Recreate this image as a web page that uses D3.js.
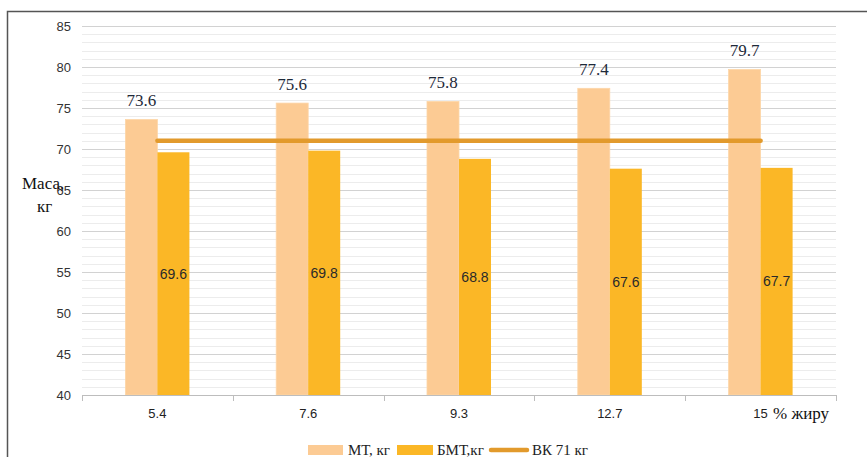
<!DOCTYPE html>
<html>
<head>
<meta charset="utf-8">
<script src="https://cdn.jsdelivr.net/npm/d3@7"></script>
<style>
  body { margin: 0; background: #fff; }
  svg { display: block; }
</style>
</head>
<body>
<svg id="chart" width="867" height="457"></svg>
<script>
// data
var categories = ["5.4", "7.6", "9.3", "12.7", "15"];
var mtValues = [73.6, 75.6, 75.8, 77.4, 79.7];
var bmtValues = [69.6, 69.8, 68.8, 67.6, 67.7];
var vkValues = [71, 71, 71, 71, 71];
var yTicks = [40, 45, 50, 55, 60, 65, 70, 75, 80, 85];

var svg = d3.select("#chart");
var plotLeft = 82, plotRight = 836, plotTop = 26, plotBottom = 395;
var serif = "'Liberation Serif', 'Times New Roman', serif";
var sans = "'Liberation Sans', Arial, sans-serif";

// frame
svg.append("path")
    .attr("d", "M7.5,457 L7.5,11.5 L867,11.5")
    .attr("fill", "none")
    .attr("stroke", "#555")
    .attr("stroke-width", 1.5);

var x = d3.scaleBand().domain(categories).range([plotLeft, plotRight]).padding(0);
var x1 = d3.scaleBand().domain(["mt", "bmt"]).range([0, x.bandwidth()])
    .paddingInner(0).paddingOuter(1.356);
var y = d3.scaleLinear().domain([40, 85]).range([plotBottom, plotTop]);

// minor grid every 1, major every 5
svg.append("g").selectAll("line")
    .data(d3.range(41, 86).filter(function (d) { return d % 5 !== 0; }))
    .enter().append("line")
    .attr("x1", plotLeft).attr("x2", plotRight)
    .attr("y1", function (d) { return Math.round(y(d)) + 0.5; })
    .attr("y2", function (d) { return Math.round(y(d)) + 0.5; })
    .attr("stroke", "#ececec");

svg.append("g").selectAll("line")
    .data(yTicks.slice(1))
    .enter().append("line")
    .attr("x1", plotLeft).attr("x2", plotRight)
    .attr("y1", function (d) { return Math.round(y(d)) + 0.5; })
    .attr("y2", function (d) { return Math.round(y(d)) + 0.5; })
    .attr("stroke", "#d2d2d2");

// y tick labels
svg.append("g").selectAll("text")
    .data(yTicks)
    .enter().append("text")
    .attr("x", 71)
    .attr("y", function (d) { return y(d) + 5; })
    .attr("text-anchor", "end")
    .attr("font-family", sans)
    .attr("font-size", "13px")
    .attr("fill", "#333")
    .text(function (d) { return d; });

// bars
var groups = svg.append("g").selectAll("g")
    .data(categories)
    .enter().append("g")
    .attr("transform", function (d) { return "translate(" + x(d) + ",0)"; });

groups.append("rect")
    .attr("x", x1("mt"))
    .attr("y", function (d, i) { return y(mtValues[i]); })
    .attr("width", x1.bandwidth())
    .attr("height", function (d, i) { return y(40) - y(mtValues[i]); })
    .attr("fill", "#fccb94")
    .attr("stroke", "#fdd6a8")
    .attr("stroke-width", 0.8);

groups.append("rect")
    .attr("x", x1("bmt"))
    .attr("y", function (d, i) { return y(bmtValues[i]); })
    .attr("width", x1.bandwidth())
    .attr("height", function (d, i) { return y(40) - y(bmtValues[i]); })
    .attr("fill", "#fbb726");

groups.append("text")
    .attr("x", x1("mt") + x1.bandwidth() / 2)
    .attr("y", function (d, i) { return y(mtValues[i]) - 13; })
    .attr("text-anchor", "middle")
    .attr("font-family", serif)
    .attr("font-size", "17px")
    .attr("fill", "#1e2a3a")
    .text(function (d, i) { return mtValues[i]; });

groups.append("text")
    .attr("x", x1("bmt") + x1.bandwidth() / 2)
    .attr("y", function (d, i) { return (y(bmtValues[i]) + y(40)) / 2 + 5; })
    .attr("text-anchor", "middle")
    .attr("font-family", sans)
    .attr("font-size", "14px")
    .attr("fill", "#2a2a2a")
    .text(function (d, i) { return bmtValues[i]; });

// x axis
svg.append("line")
    .attr("x1", plotLeft).attr("x2", plotRight)
    .attr("y1", plotBottom + 0.5).attr("y2", plotBottom + 0.5)
    .attr("stroke", "#bdbdbd");

svg.append("g").selectAll("line")
    .data(d3.range(categories.length + 1))
    .enter().append("line")
    .attr("x1", function (d) { return Math.round(plotLeft + d * x.step()) + 0.5; })
    .attr("x2", function (d) { return Math.round(plotLeft + d * x.step()) + 0.5; })
    .attr("y1", plotBottom).attr("y2", plotBottom + 6)
    .attr("stroke", "#bdbdbd");

svg.append("g").selectAll("text")
    .data(categories)
    .enter().append("text")
    .attr("x", function (d) { return x(d) + x.bandwidth() / 2; })
    .attr("y", 418)
    .attr("text-anchor", "middle")
    .attr("font-family", sans)
    .attr("font-size", "13px")
    .attr("fill", "#222")
    .text(function (d) { return d; });

// VK line
var line = d3.line()
    .x(function (d, i) { return x(categories[i]) + x.bandwidth() / 2; })
    .y(function (d) { return y(d); });

svg.append("path")
    .datum(vkValues)
    .attr("d", line)
    .attr("fill", "none")
    .attr("stroke", "#e29a2c")
    .attr("stroke-width", 4.5)
    .attr("stroke-linecap", "round");

// axis titles
svg.append("text").attr("x", 22).attr("y", 189)
    .attr("font-family", serif).attr("font-size", "17px").attr("fill", "#111")
    .text("Маса,");
svg.append("text").attr("x", 37).attr("y", 212)
    .attr("font-family", serif).attr("font-size", "17px").attr("fill", "#111")
    .text("кг");
svg.append("text").attr("x", 773).attr("y", 419)
    .attr("font-family", serif).attr("font-size", "17px").attr("fill", "#111")
    .text("% жиру");

// legend
var legend = svg.append("g");
legend.append("rect").attr("x", 308).attr("y", 445).attr("width", 35).attr("height", 10).attr("fill", "#fccb94");
legend.append("text").attr("x", 348).attr("y", 455)
    .attr("font-family", serif).attr("font-size", "15px").attr("fill", "#222").text("МТ, кг");
legend.append("rect").attr("x", 397).attr("y", 445).attr("width", 36).attr("height", 10).attr("fill", "#fbb726");
legend.append("text").attr("x", 437).attr("y", 455)
    .attr("font-family", serif).attr("font-size", "15px").attr("fill", "#222").text("БМТ,кг");
legend.append("line").attr("x1", 491).attr("x2", 527).attr("y1", 450).attr("y2", 450)
    .attr("stroke", "#e29a2c").attr("stroke-width", 4.5).attr("stroke-linecap", "round");
legend.append("text").attr("x", 532).attr("y", 455)
    .attr("font-family", serif).attr("font-size", "15px").attr("fill", "#222").text("ВК 71 кг");
</script>
</body>
</html>
